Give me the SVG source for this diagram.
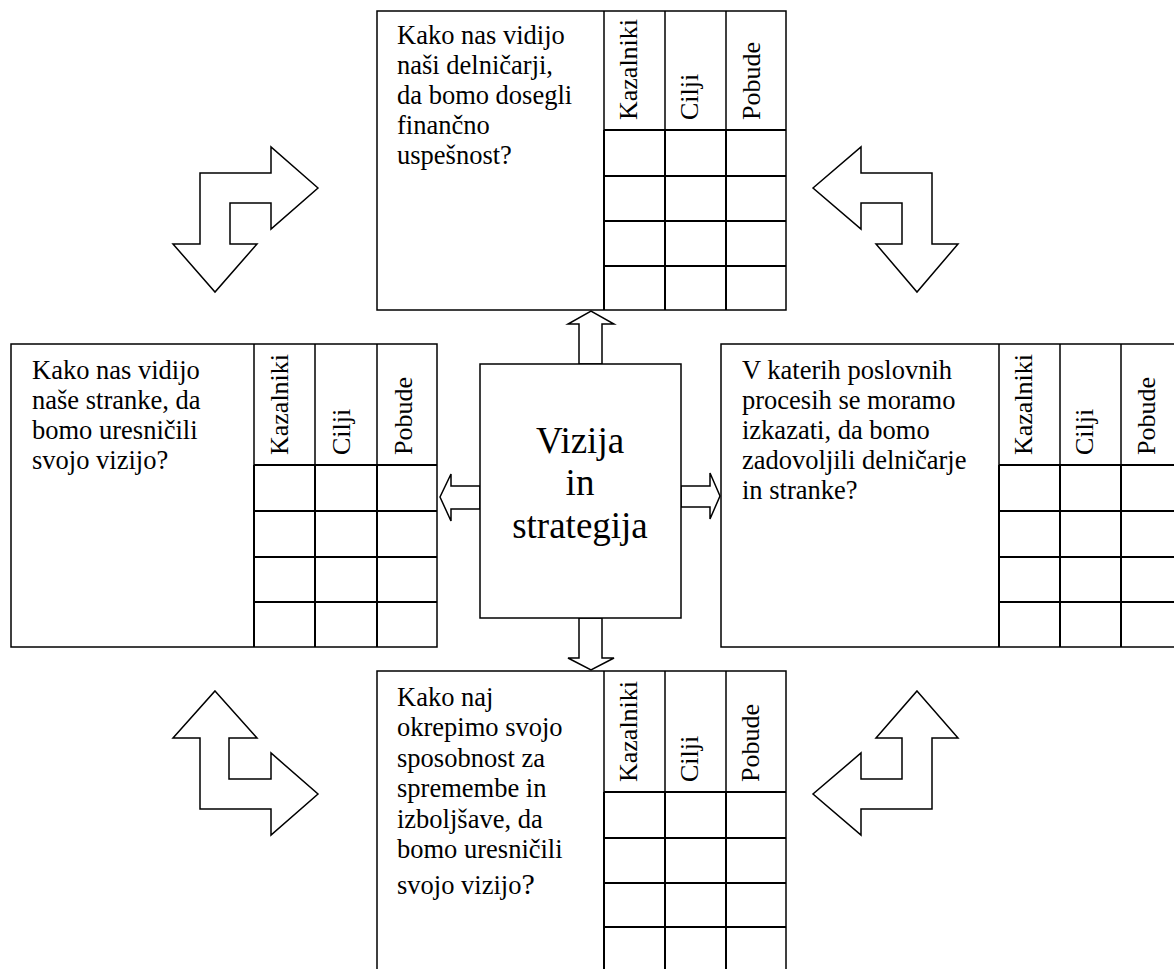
<svg xmlns="http://www.w3.org/2000/svg" width="1174" height="969" viewBox="0 0 1174 969">
<style>
.box{fill:#fff;stroke:#000;stroke-width:1.5}
.grid{stroke:#000;stroke-width:2;fill:none}
.col{stroke:#000;stroke-width:1.5;fill:none}
text{font-family:'Liberation Serif','Times New Roman',serif;fill:#000}
.q{font-size:26.5px}
.h{font-size:26px}
.c{font-size:37px;text-anchor:middle}
.arr{fill:#fff;stroke:#000;stroke-width:1.5;stroke-linejoin:miter}
</style>
<rect width="1174" height="969" fill="#fff"/>

<g id="connectors">
  <polygon class="arr" points="579,364 579,324 568,324 591,311 614,324 602,324 602,364"/>
  <polygon class="arr" points="579,618 579,658 568,658 591,670 614,658 602,658 602,618"/>
  <polygon class="arr" points="480,486 451,486 451,474 440,497 451,521 451,509 480,509"/>
  <polygon class="arr" points="681,486 710,486 710,473 720,496 710,519 710,507 681,507"/>
  <polygon class="arr" points="318,188 271,147 271,173 200,173 200,244 173,244 215,292 257,244 230,244 230,203 271,203 271,229"/>
  <polygon class="arr" points="813,188 861,147 861,173 932,173 932,244 958,244 917,292 876,244 902,244 902,203 861,203 861,229"/>
  <polygon class="arr" points="215,691 257,738 229,738 229,779 271,779 271,753 318,794 271,835 271,809 200,809 200,738 173,738"/>
  <polygon class="arr" points="917,691 958,738 932,738 932,809 861,809 861,835 813,794 861,753 861,779 902,779 902,738 876,738"/>
</g>

<g id="node-top">
  <rect class="box" x="377" y="11" width="409" height="299"/>
  <line class="col" x1="604" y1="11" x2="604" y2="310"/>
  <line class="col" x1="665" y1="11" x2="665" y2="310"/>
  <line class="col" x1="726" y1="11" x2="726" y2="310"/>
  <path class="grid" d="M604 130H786M604 176H786M604 221H786M604 266H786M604 130V310M665 130V310M726 130V310"/>
  <text class="q"><tspan x="397" y="44">Kako nas vidijo</tspan><tspan x="397" y="74">naši delničarji,</tspan><tspan x="397" y="104">da bomo dosegli</tspan><tspan x="397" y="134">finančno</tspan><tspan x="397" y="164">uspešnost?</tspan></text>
  <text class="h" transform="translate(637,120) rotate(-90)">Kazalniki</text>
  <text class="h" transform="translate(698,120) rotate(-90)">Cilji</text>
  <text class="h" transform="translate(760,120) rotate(-90)">Pobude</text>
</g>

<g id="node-left">
  <rect class="box" x="11" y="344" width="426" height="303"/>
  <line class="col" x1="254" y1="344" x2="254" y2="647"/>
  <line class="col" x1="315" y1="344" x2="315" y2="647"/>
  <line class="col" x1="377" y1="344" x2="377" y2="647"/>
  <path class="grid" d="M254 465H437M254 511H437M254 557H437M254 602H437M254 465V647M315 465V647M377 465V647"/>
  <text class="q"><tspan x="32" y="379">Kako nas vidijo</tspan><tspan x="32" y="409">naše stranke, da</tspan><tspan x="32" y="439">bomo uresničili</tspan><tspan x="32" y="469">svojo vizijo?</tspan></text>
  <text class="h" transform="translate(288,455) rotate(-90)">Kazalniki</text>
  <text class="h" transform="translate(350,455) rotate(-90)">Cilji</text>
  <text class="h" transform="translate(412,455) rotate(-90)">Pobude</text>
</g>

<g id="node-right">
  <rect class="box" x="721" y="344" width="462" height="303"/>
  <line class="col" x1="999" y1="344" x2="999" y2="647"/>
  <line class="col" x1="1060" y1="344" x2="1060" y2="647"/>
  <line class="col" x1="1121" y1="344" x2="1121" y2="647"/>
  <path class="grid" d="M999 465H1183M999 511H1183M999 557H1183M999 602H1183M999 465V647M1060 465V647M1121 465V647"/>
  <text class="q"><tspan x="742" y="379">V katerih poslovnih</tspan><tspan x="742" y="409">procesih se moramo</tspan><tspan x="742" y="439">izkazati, da bomo</tspan><tspan x="742" y="469">zadovoljili delničarje</tspan><tspan x="742" y="499">in stranke?</tspan></text>
  <text class="h" transform="translate(1032,455) rotate(-90)">Kazalniki</text>
  <text class="h" transform="translate(1093,455) rotate(-90)">Cilji</text>
  <text class="h" transform="translate(1155,455) rotate(-90)">Pobude</text>
</g>

<g id="node-bottom">
  <rect class="box" x="377" y="671" width="409" height="310"/>
  <line class="col" x1="604" y1="671" x2="604" y2="981"/>
  <line class="col" x1="665" y1="671" x2="665" y2="981"/>
  <line class="col" x1="726" y1="671" x2="726" y2="981"/>
  <path class="grid" d="M604 792H786M604 838H786M604 883H786M604 927H786M604 792V981M665 792V981M726 792V981"/>
  <text class="q"><tspan x="397" y="706">Kako naj</tspan><tspan x="397" y="736">okrepimo svojo</tspan><tspan x="397" y="767">sposobnost za</tspan><tspan x="397" y="797">spremembe in</tspan><tspan x="397" y="828">izboljšave, da</tspan><tspan x="397" y="858">bomo uresničili</tspan><tspan x="397" y="894">svojo vizijo<tspan font-size="30">?</tspan></tspan></text>
  <text class="h" transform="translate(637,782) rotate(-90)">Kazalniki</text>
  <text class="h" transform="translate(698,782) rotate(-90)">Cilji</text>
  <text class="h" transform="translate(759,782) rotate(-90)">Pobude</text>
</g>

<g id="node-center">
  <rect class="box" x="480" y="364" width="201" height="254"/>
  <text class="c"><tspan x="580" y="453">Vizija</tspan><tspan x="580" y="495">in</tspan><tspan x="580" y="538">strategija</tspan></text>
</g>
</svg>
